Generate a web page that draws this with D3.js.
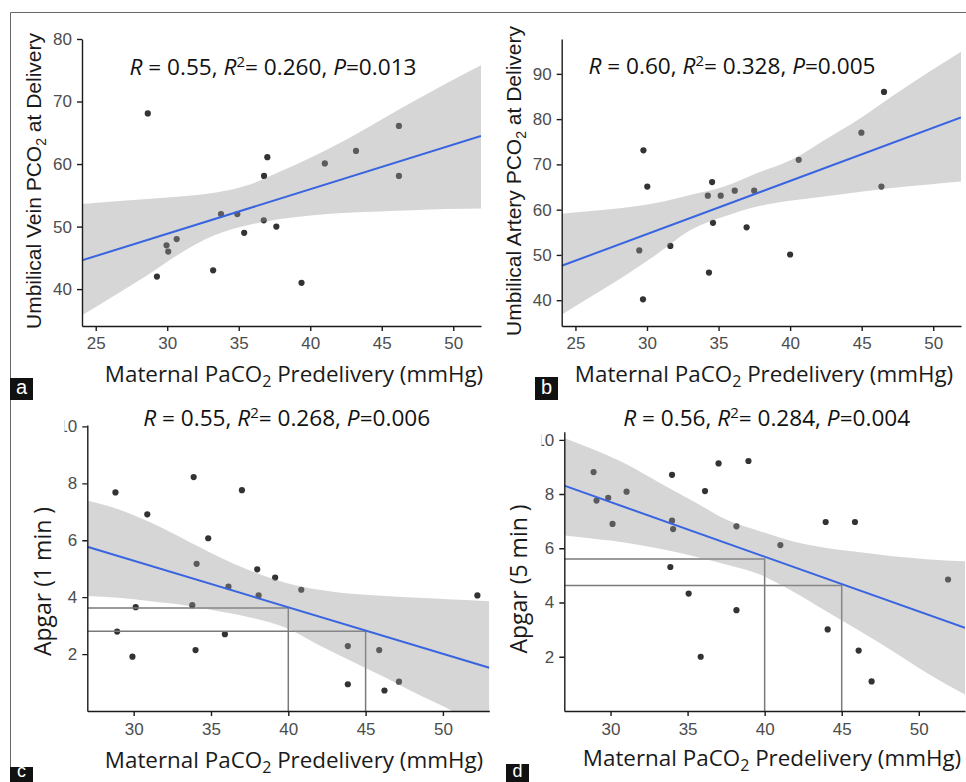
<!DOCTYPE html>
<html>
<head>
<meta charset="utf-8">
<title>Maternal PaCO2 vs neonatal outcomes</title>
<script src="https://cdn.jsdelivr.net/npm/d3@7"></script>
<style>
  body { margin: 0; background: #fff; }
  svg { display: block; }
  .tick text { font-family: "Liberation Sans", Arial, sans-serif; font-size: 17px; fill: #4d4d4d; }
  .tick line, .domain { stroke: #1a1a1a; stroke-width: 1.4px; }
  .axis-title { font-family: "Open Sans", sans-serif; font-size: 22.4px; fill: #1a1a1a; }
  .apgar-title { font-family: "Open Sans", sans-serif; font-size: 23px; fill: #1a1a1a; }
  .y-title-arial { font-family: "Liberation Sans", Arial, sans-serif; font-size: 21px; fill: #1a1a1a; }
  .stat { font-family: "Open Sans", sans-serif; font-size: 22.6px; fill: #111; }
  .band { fill: #999999; fill-opacity: 0.4; }
  .fit { fill: none; stroke: #3864e0; stroke-width: 2px; }
  .pt { fill: #333; }
  .ref { fill: none; stroke: #7a7a7a; stroke-width: 1.5px; }
  .frame { stroke: #666; stroke-width: 1px; }
  .tag { font-family: "Liberation Sans", Arial, sans-serif; fill: #fff; }
</style>
</head>
<body>
<div id="chart"></div>
<script>
// ---- data ----
// a: umbilical vein PCO2 vs maternal PaCO2
var paco2A = [28.64, 37.0, 36.77, 41.02, 43.2, 46.2, 46.2, 33.76, 34.9, 35.38, 36.75, 37.63, 30.66, 29.95, 30.07, 29.28, 33.21, 39.39];
var uvPco2 = [68.1, 61.1, 58.1, 60.1, 62.1, 66.1, 58.1, 52.0, 52.0, 49.0, 51.0, 50.0, 48.0, 47.0, 46.0, 42.0, 43.0, 41.0];
var bandXA  = [24.04, 26.2, 28.6, 30.9, 33.3, 35.6, 37.9, 40.2, 42.6, 44.9, 47.2, 49.5, 51.94];
var bandHiA = [53.6, 54.0, 54.4, 54.8, 55.4, 56.6, 58.8, 61.2, 64.0, 67.0, 70.0, 72.9, 75.8];
var bandLoA = [35.8, 38.8, 42.2, 45.7, 48.6, 50.2, 51.2, 51.8, 52.2, 52.4, 52.6, 52.8, 52.9];
var fitA = [44.6, 64.5];
var statsA = ["0.55", "0.260", "0.013"];

// b: umbilical artery PCO2 vs maternal PaCO2
var paco2B = [29.75, 30.02, 34.55, 34.25, 35.15, 36.13, 37.49, 40.6, 44.98, 46.56, 46.38, 29.46, 31.63, 34.61, 36.96, 34.33, 40.0, 29.72];
var uaPco2 = [73.1, 65.1, 66.1, 63.1, 63.1, 64.2, 64.2, 71.0, 77.0, 86.0, 65.1, 51.0, 52.0, 57.1, 56.1, 46.1, 50.1, 40.2];
var bandXB  = [24.04, 26.1, 28.4, 30.8, 33.1, 35.4, 37.7, 40.1, 42.4, 44.8, 47.1, 49.5, 51.94];
var bandHiB = [59.1, 59.7, 60.4, 61.6, 63.3, 65.1, 68.1, 71.0, 75.4, 80.0, 85.0, 90.0, 94.9];
var bandLoB = [36.8, 40.8, 45.3, 50.4, 55.6, 58.5, 60.7, 62.0, 62.9, 63.9, 64.8, 65.5, 66.2];
var fitB = [47.6, 80.4];
var statsB = ["0.60", "0.328", "0.005"];

// c: Apgar at 1 min vs maternal PaCO2
var paco2C = [28.82, 30.88, 33.88, 37.0, 34.82, 34.07, 37.99, 39.15, 36.13, 40.84, 38.08, 30.13, 33.79, 28.93, 35.9, 29.92, 34.0, 43.85, 45.88, 43.85, 46.22, 47.16, 52.23];
var apgar1 = [7.68, 6.91, 8.22, 7.76, 6.07, 5.17, 4.98, 4.69, 4.37, 4.26, 4.06, 3.65, 3.72, 2.79, 2.70, 1.91, 2.14, 2.28, 2.14, 0.94, 0.72, 1.03, 4.06];
var bandXC  = [27, 29.0, 31.1, 33.3, 35.4, 37.6, 39.8, 41.9, 44.1, 46.3, 48.4, 50.6, 53];
var bandHiC = [7.40, 7.09, 6.62, 6.03, 5.45, 4.92, 4.51, 4.27, 4.12, 4.04, 3.98, 3.92, 3.86];
var bandLoC = [4.04, 3.98, 3.86, 3.72, 3.51, 3.28, 2.93, 2.34, 1.75, 1.17, 0.58, 0.0, -0.82];
var fitC = [5.77, 1.52];
var refXC = [40, 45];
var refYC = [3.62, 2.80];
var statsC = ["0.55", "0.268", "0.006"];

// d: Apgar at 5 min vs maternal PaCO2
var paco2D = [28.9, 29.09, 29.85, 30.13, 31.04, 33.99, 33.99, 34.06, 33.88, 36.13, 37.01, 38.95, 38.17, 41.02, 43.96, 45.86, 51.9, 35.07, 38.17, 35.85, 44.09, 46.1, 46.94];
var apgar5 = [8.81, 7.76, 7.86, 6.90, 8.09, 8.71, 7.02, 6.71, 5.31, 8.11, 9.13, 9.22, 6.81, 6.12, 6.97, 6.97, 4.85, 4.33, 3.72, 2.0, 3.01, 2.23, 1.09];
var bandXD  = [27, 28.9, 31.1, 33.2, 35.4, 37.5, 39.7, 41.8, 44.0, 46.2, 48.3, 50.5, 53];
var bandHiD = [10.07, 9.64, 9.08, 8.41, 7.73, 7.06, 6.63, 6.26, 6.01, 5.85, 5.71, 5.60, 5.52];
var bandLoD = [6.47, 6.35, 6.20, 5.98, 5.71, 5.40, 5.03, 4.42, 3.68, 2.94, 2.21, 1.41, 0.61];
var fitD = [8.31, 3.07];
var refXD = [40, 45];
var refYD = [5.61, 4.63];
var statsD = ["0.56", "0.284", "0.004"];

// ticks
var xTicksAB = [25, 30, 35, 40, 45, 50];
var yTicksA = [40, 50, 60, 70, 80];
var yTicksB = [40, 50, 60, 70, 80, 90];
var xTicksCD = [30, 35, 40, 45, 50];
var yTicksCD = [2, 4, 6, 8, 10];

var width = 966, height = 782;

var svg = d3.select("#chart").append("svg")
  .attr("width", width)
  .attr("height", height);
var defs = svg.append("defs");

// outer frame (top and left edges)
svg.append("line").attr("class", "frame").attr("x1", 10.5).attr("y1", 12.5).attr("x2", width).attr("y2", 12.5);
svg.append("line").attr("class", "frame").attr("x1", 10.5).attr("y1", 12.5).attr("x2", 10.5).attr("y2", height);

var panels = [
  { id: "a", xs: paco2A, ys: uvPco2, xDom: [24.04, 51.94], yDom: [34.1, 80],
    frame: [82, 481, 39, 326], xTicks: xTicksAB, yTicks: yTicksA,
    bandX: bandXA, bandHi: bandHiA, bandLo: bandLoA, fit: fitA, stats: statsA,
    statPos: [273, 75], xTitlePos: [294, 382], yTitlePos: [40.5, 181],
    yTitle: ["Umbilical Vein PCO", "2", " at Delivery"], yTitleClass: "y-title-arial",
    tag: [10, 378, 23, 22], tagBase: 394, tagSize: 20, xPad: 6 },
  { id: "b", xs: paco2B, ys: uaPco2, xDom: [24.04, 51.94], yDom: [34.3, 97.7],
    frame: [561.7, 961, 39, 326], xTicks: xTicksAB, yTicks: yTicksB,
    bandX: bandXB, bandHi: bandHiB, bandLo: bandLoB, fit: fitB, stats: statsB,
    statPos: [732, 74], xTitlePos: [764, 382], yTitlePos: [520.5, 181],
    yTitle: ["Umbilical Artery PCO", "2", " at Delivery"], yTitleClass: "y-title-arial",
    tag: [535, 377, 23, 23], tagBase: 394, tagSize: 20, xPad: 6 },
  { id: "c", xs: paco2C, ys: apgar1, xDom: [27, 53], yDom: [0, 10.05],
    frame: [87.3, 489.3, 425, 711], xTicks: xTicksCD, yTicks: yTicksCD,
    bandX: bandXC, bandHi: bandHiC, bandLo: bandLoC, fit: fitC, stats: statsC,
    refX: refXC, refY: refYC, labelClip: 64.5,
    statPos: [286.7, 426], xTitlePos: [294, 768], yTitlePos: [50.5, 581.5],
    yTitle: ["Apgar (1 min )"], yTitleClass: "apgar-title",
    tag: [10, 767, 23, 20], tagBase: 777, tagSize: 18, xPad: 7 },
  { id: "d", xs: paco2D, ys: apgar5, xDom: [27, 53], yDom: [0, 10.3],
    frame: [564.3, 965, 431.7, 711], xTicks: xTicksCD, yTicks: yTicksCD,
    bandX: bandXD, bandHi: bandHiD, bandLo: bandLoD, fit: fitD, stats: statsD,
    refX: refXD, refY: refYD, labelClip: 541.5,
    statPos: [766.7, 426], xTitlePos: [772, 766], yTitlePos: [526.5, 579],
    yTitle: ["Apgar (5 min )"], yTitleClass: "apgar-title",
    tag: [506, 764, 23, 20], tagBase: 777, tagSize: 18, xPad: 7 }
];

panels.forEach(drawPanel);

function drawPanel(p) {
  var left = p.frame[0], right = p.frame[1], top = p.frame[2], bottom = p.frame[3];
  var x = d3.scaleLinear().domain(p.xDom).range([left, right]);
  var y = d3.scaleLinear().domain(p.yDom).range([bottom, top]);

  defs.append("clipPath").attr("id", "plot-" + p.id)
    .append("rect")
    .attr("x", left).attr("y", top - 2)
    .attr("width", right - left).attr("height", bottom - top + 2);

  var g = svg.append("g");
  var plot = g.append("g").attr("clip-path", "url(#plot-" + p.id + ")");

  // points go first: the confidence band sits on top of them
  plot.selectAll("circle")
    .data(d3.zip(p.xs, p.ys))
    .enter().append("circle")
    .attr("class", "pt")
    .attr("cx", function (d) { return x(d[0]); })
    .attr("cy", function (d) { return y(d[1]); })
    .attr("r", 3.1);

  // reference lines for Apgar panels
  if (p.refX) {
    var refs = d3.zip(p.refX, p.refY);
    plot.selectAll("path.ref")
      .data(refs)
      .enter().append("path")
      .attr("class", "ref")
      .attr("d", function (d) {
        return d3.line()([[x(p.xDom[0]), y(d[1])], [x(d[0]), y(d[1])], [x(d[0]), y(p.yDom[0])]]);
      });
  }

  var area = d3.area()
    .x(function (d) { return x(d[0]); })
    .y0(function (d) { return y(d[1]); })
    .y1(function (d) { return y(d[2]); })
    .curve(d3.curveMonotoneX);
  plot.append("path")
    .datum(d3.zip(p.bandX, p.bandLo, p.bandHi))
    .attr("class", "band")
    .attr("d", area);

  var fitLine = d3.line()
    .x(function (d) { return x(d[0]); })
    .y(function (d) { return y(d[1]); });
  plot.append("path")
    .datum(d3.zip(p.xDom, p.fit))
    .attr("class", "fit")
    .attr("d", fitLine);

  // axes
  var xAxis = d3.axisBottom(x).tickValues(p.xTicks).tickSize(5).tickSizeOuter(0).tickPadding(p.xPad);
  g.append("g")
    .attr("transform", "translate(0," + bottom + ")")
    .call(xAxis);

  var yAxis = d3.axisLeft(y).tickValues(p.yTicks).tickSize(5).tickSizeOuter(0).tickPadding(5);
  var yWrap = g.append("g");
  if (p.labelClip) {
    defs.append("clipPath").attr("id", "ylab-" + p.id)
      .append("rect")
      .attr("x", p.labelClip).attr("y", top - 30)
      .attr("width", right - p.labelClip).attr("height", bottom - top + 60);
    yWrap.attr("clip-path", "url(#ylab-" + p.id + ")");
  }
  yWrap.append("g")
    .attr("transform", "translate(" + left + ",0)")
    .call(yAxis);

  // statistics line
  var st = g.append("text")
    .attr("class", "stat")
    .attr("x", p.statPos[0]).attr("y", p.statPos[1])
    .attr("text-anchor", "middle");
  st.append("tspan").attr("font-style", "italic").text("R");
  st.append("tspan").text(" = " + p.stats[0] + ", ");
  st.append("tspan").attr("font-style", "italic").text("R");
  st.append("tspan").attr("font-size", 15).attr("dy", -8).text("2");
  st.append("tspan").attr("dy", 8).text("= " + p.stats[1] + ", ");
  st.append("tspan").attr("font-style", "italic").text("P");
  st.append("tspan").text("=" + p.stats[2]);

  // x title
  var xt = g.append("text")
    .attr("class", "axis-title")
    .attr("x", p.xTitlePos[0]).attr("y", p.xTitlePos[1])
    .attr("text-anchor", "middle");
  xt.append("tspan").text("Maternal PaCO");
  xt.append("tspan").attr("font-size", 16).attr("dy", 5).text("2");
  xt.append("tspan").attr("dy", -5).text(" Predelivery (mmHg)");

  // y title
  var yt = g.append("text")
    .attr("class", p.yTitleClass)
    .attr("transform", "translate(" + p.yTitlePos[0] + "," + p.yTitlePos[1] + ") rotate(-90)")
    .attr("text-anchor", "middle");
  yt.append("tspan").text(p.yTitle[0]);
  if (p.yTitle.length > 1) {
    yt.append("tspan").attr("font-size", 14).attr("dy", 5).text(p.yTitle[1]);
    yt.append("tspan").attr("dy", -5).text(p.yTitle[2]);
  }

  // panel letter
  g.append("rect")
    .attr("x", p.tag[0]).attr("y", p.tag[1])
    .attr("width", p.tag[2]).attr("height", p.tag[3])
    .attr("fill", "#111");
  g.append("text")
    .attr("class", "tag")
    .attr("font-size", p.tagSize)
    .attr("x", p.tag[0] + p.tag[2] / 2)
    .attr("y", p.tagBase)
    .attr("text-anchor", "middle")
    .text(p.id);
}
</script>
</body>
</html>
